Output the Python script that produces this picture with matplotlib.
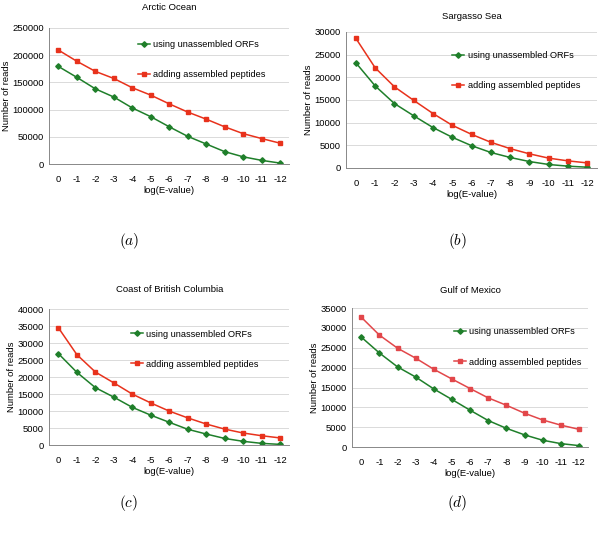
import matplotlib
matplotlib.use("Agg")
import matplotlib.pyplot as plt

plt.rcParams["font.family"] = ["Liberation Sans", "DejaVu Sans"]
plt.rcParams["mathtext.fontset"] = "cm"

# ----------------- DATA -----------------
x_labels = ["0", "-1", "-2", "-3", "-4", "-5", "-6", "-7", "-8", "-9", "-10", "-11", "-12"]

arctic_orfs = [179000, 159000, 138000, 123000, 103000, 87000, 68500, 51000, 37000, 23000, 13500, 7000, 2000]
arctic_pep = [209000, 188500, 170000, 157000, 140000, 126500, 110500, 95500, 82500, 68500, 56000, 47000, 38500]

sargasso_orfs = [23200, 18100, 14200, 11500, 8900, 6750, 4900, 3400, 2300, 1400, 750, 380, 150]
sargasso_pep = [28600, 22100, 17900, 14900, 12000, 9400, 7400, 5650, 4250, 3100, 2150, 1550, 1100]

columbia_orfs = [26900, 21400, 16900, 14100, 11100, 8800, 6700, 4650, 3250, 1950, 1100, 500, 200]
columbia_pep = [34500, 26600, 21500, 18300, 15000, 12400, 10000, 8000, 6200, 4700, 3550, 2750, 2100]

mexico_orfs = [27700, 23700, 20200, 17650, 14650, 12000, 9300, 6700, 4750, 3100, 1750, 900, 400]
mexico_pep = [32700, 28200, 24900, 22400, 19600, 17150, 14750, 12400, 10550, 8550, 6850, 5550, 4500]

titles = ["Arctic Ocean", "Sargasso Sea", "Coast of British Columbia", "Gulf of Mexico"]
captions = ["$(a)$", "$(b)$", "$(c)$", "$(d)$"]
y_max = [250000, 30000, 40000, 35000]
y_step = [50000, 5000, 5000, 5000]

GREEN = "#1f7f2a"
RED = "#e8321c"
RED_D = "#e2474a"

# ----------------- LAYOUT -----------------
axes_rects = [
    [0.082, 0.692, 0.400, 0.256],
    [0.577, 0.685, 0.418, 0.255],
    [0.082, 0.165, 0.400, 0.255],
    [0.587, 0.161, 0.393, 0.261],
]
title_pads = [12.5, 9, 12.5, 10.5]
legend_anchor = [(0.335, 0.97), (0.39, 0.92), (0.305, 0.91), (0.395, 0.92)]
caption_pos = [(0.215, 0.548), (0.762, 0.548), (0.215, 0.056), (0.762, 0.056)]

series = [
    (arctic_orfs, arctic_pep),
    (sargasso_orfs, sargasso_pep),
    (columbia_orfs, columbia_pep),
    (mexico_orfs, mexico_pep),
]

fig = plt.figure(figsize=(6.0, 5.33), dpi=100)

for i, (orfs, pep) in enumerate(series):
    ax = fig.add_axes(axes_rects[i])
    xs = list(range(len(x_labels)))
    red = RED_D if i == 3 else RED
    ax.plot(xs, orfs, color=GREEN, marker="D", markersize=2.8, linewidth=1.1,
            label="using unassembled ORFs")
    ax.plot(xs, pep, color=red, marker="s", markersize=3.5, linewidth=1.1,
            label="adding assembled peptides")

    ax.set_xlim(-0.5, len(x_labels) - 0.5)
    ax.set_ylim(0, y_max[i])
    ax.set_yticks(range(0, y_max[i] + 1, y_step[i]))
    ax.set_xticks(xs)
    ax.set_xticklabels(x_labels)
    ax.tick_params(labelsize=6.8, color="#888888")
    ax.tick_params(axis="y", length=0, pad=4)
    ax.tick_params(axis="x", length=0, pad=8)

    ax.grid(axis="y", color="#d4d4d4", linewidth=0.6)
    ax.set_axisbelow(True)
    for side in ["top", "right"]:
        ax.spines[side].set_visible(False)
    for side in ["left", "bottom"]:
        ax.spines[side].set_color("#888888")
        ax.spines[side].set_linewidth(0.7)

    ax.set_xlabel("log(E-value)", fontsize=6.8, labelpad=1.5)
    ax.set_ylabel("Number of reads", fontsize=6.8, labelpad=1)
    ax.set_title(titles[i], fontsize=6.8, pad=title_pads[i])

    ax.legend(loc="upper left", bbox_to_anchor=legend_anchor[i], frameon=False,
              fontsize=6.6, labelspacing=2.3, handlelength=1.3, handletextpad=0.4)

    fig.text(caption_pos[i][0], caption_pos[i][1], captions[i], fontsize=11,
             ha="center", va="center")

fig.savefig("out.png", dpi=100, facecolor="white")
